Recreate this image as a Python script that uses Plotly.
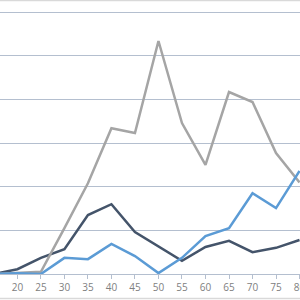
import plotly.graph_objects as go

x_vals = [15, 20, 25, 30, 35, 40, 45, 50, 55, 60, 65, 70, 75, 80]
navy_vals = [0.0, 0.11, 0.37, 0.57, 1.35, 1.60, 0.96, 0.63, 0.30, 0.62, 0.76, 0.50, 0.60, 0.78]
gray_vals = [0.0, 0.02, 0.05, 1.05, 2.08, 3.34, 3.23, 5.34, 3.46, 2.50, 4.17, 3.94, 2.77, 2.10]
blue_vals = [0.0, 0.02, 0.0, 0.37, 0.34, 0.69, 0.41, 0.02, 0.37, 0.87, 1.05, 1.85, 1.51, 2.36]
tick_vals = [20, 25, 30, 35, 40, 45, 50, 55, 60, 65, 70, 75, 80]

fig = go.Figure()
fig.add_trace(go.Scatter(x=x_vals, y=navy_vals, mode="lines", name="Series 1",
                         line=dict(color="#44546A", width=2.5)))
fig.add_trace(go.Scatter(x=x_vals, y=gray_vals, mode="lines", name="Series 2",
                         line=dict(color="#A5A5A5", width=2.5)))
fig.add_trace(go.Scatter(x=x_vals, y=blue_vals, mode="lines", name="Series 3",
                         line=dict(color="#5B9BD5", width=2.5)))

grid_c = "#B4BFCF"
fig.update_layout(
    width=300, height=300,
    margin=dict(l=0, r=0, t=10, b=26),
    paper_bgcolor="white", plot_bgcolor="white",
    showlegend=False,
    font=dict(family="Open Sans, Liberation Sans, sans-serif", size=10, color="#808080"),
    xaxis=dict(range=[16.3, 80.1], tickvals=tick_vals, ticktext=[str(v) for v in tick_vals],
               showgrid=False, zeroline=False, showline=True, linecolor=grid_c, linewidth=1,
               ticks="outside", ticklen=4, tickcolor=grid_c, automargin=False,
               ticklabeloverflow="allow",
               tickfont=dict(size=10, color="#808080")),
    yaxis=dict(range=[0, 6.05], dtick=1, showgrid=True, gridcolor=grid_c, gridwidth=1,
               zeroline=False, showticklabels=False, showline=False, automargin=False),
    shapes=[
        dict(type="line", xref="paper", yref="paper", x0=0, x1=1, y0=1.036, y1=1.036,
             line=dict(color="#D9D9D9", width=1.5)),
        dict(type="line", xref="paper", yref="paper", x0=0, x1=1, y0=-0.0928, y1=-0.0928,
             line=dict(color="#D9D9D9", width=1.5)),
    ],
)

fig.write_html("out.html")
